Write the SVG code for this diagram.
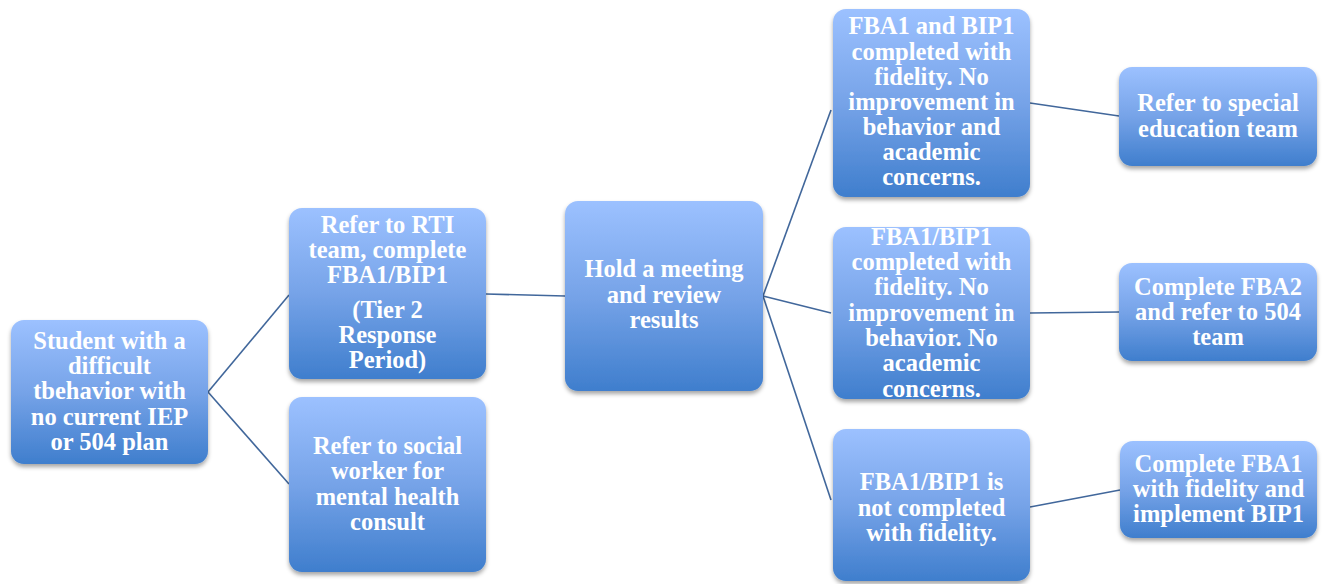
<svg xmlns="http://www.w3.org/2000/svg" width="1324" height="584" viewBox="0 0 1324 584">
<style>
.box{fill:url(#g);filter:url(#sh)}
.t{font-family:"Liberation Serif","Times New Roman",serif;font-weight:bold;font-size:24.5px;fill:#ffffff;text-anchor:middle}
.c{fill:none;stroke:#41679b;stroke-width:1.6}
</style>
<defs>
<linearGradient id="g" x1="0" y1="0" x2="0" y2="1">
<stop offset="0" stop-color="#9cc1ff"/>
<stop offset="0.5" stop-color="#76a3e8"/>
<stop offset="1" stop-color="#3f7ecd"/>
</linearGradient>
<filter id="sh" x="-10%" y="-10%" width="120%" height="125%">
<feDropShadow dx="0" dy="3" stdDeviation="2.2" flood-color="#000" flood-opacity="0.35"/>
</filter>
</defs>
<rect width="1324" height="584" fill="#ffffff"/>
<g id="connectors">
<line class="c" x1="208" y1="392" x2="289" y2="295"/>
<line class="c" x1="208" y1="392" x2="289" y2="484"/>
<line class="c" x1="486" y1="294" x2="565" y2="296"/>
<line class="c" x1="763" y1="296" x2="831" y2="110"/>
<line class="c" x1="763" y1="296" x2="831" y2="313"/>
<line class="c" x1="763" y1="296" x2="831" y2="500"/>
<line class="c" x1="1030" y1="103" x2="1119" y2="116"/>
<line class="c" x1="1030" y1="313" x2="1119" y2="312"/>
<line class="c" x1="1030" y1="507" x2="1120" y2="490"/>
</g>
<g id="n-student">
<rect class="box" x="11" y="320" width="197" height="144" rx="13"/>
<text class="t"><tspan x="109.5" y="349">Student with a</tspan><tspan x="109.5" y="374">difficult</tspan><tspan x="109.5" y="399">tbehavior with</tspan><tspan x="109.5" y="425">no current IEP</tspan><tspan x="109.5" y="450">or 504 plan</tspan></text>
</g>
<g id="n-rti">
<rect class="box" x="289" y="208" width="197" height="171" rx="13"/>
<text class="t"><tspan x="387.5" y="233">Refer to RTI</tspan><tspan x="387.5" y="258">team, complete</tspan><tspan x="387.5" y="283">FBA1/BIP1</tspan><tspan x="387.5" y="318">(Tier 2</tspan><tspan x="387.5" y="343">Response</tspan><tspan x="387.5" y="368">Period)</tspan></text>
</g>
<g id="n-social">
<rect class="box" x="289" y="397" width="197" height="175" rx="13"/>
<text class="t"><tspan x="387.5" y="454">Refer to social</tspan><tspan x="387.5" y="479">worker for</tspan><tspan x="387.5" y="505">mental health</tspan><tspan x="387.5" y="530">consult</tspan></text>
</g>
<g id="n-meeting">
<rect class="box" x="565" y="201" width="198" height="190" rx="13"/>
<text class="t"><tspan x="664" y="277">Hold a meeting</tspan><tspan x="664" y="303">and review</tspan><tspan x="664" y="328">results</tspan></text>
</g>
<g id="n-fba-both">
<rect class="box" x="833" y="9" width="197" height="188" rx="13"/>
<text class="t"><tspan x="931.5" y="34">FBA1 and BIP1</tspan><tspan x="931.5" y="60">completed with</tspan><tspan x="931.5" y="85">fidelity. No</tspan><tspan x="931.5" y="110">improvement in</tspan><tspan x="931.5" y="135">behavior and</tspan><tspan x="931.5" y="160">academic</tspan><tspan x="931.5" y="185">concerns.</tspan></text>
</g>
<g id="n-fba-behavior">
<rect class="box" x="833" y="227" width="197" height="172" rx="13"/>
<text class="t"><tspan x="931.5" y="245">FBA1/BIP1</tspan><tspan x="931.5" y="270">completed with</tspan><tspan x="931.5" y="295">fidelity. No</tspan><tspan x="931.5" y="321">improvement in</tspan><tspan x="931.5" y="346">behavior. No</tspan><tspan x="931.5" y="371">academic</tspan><tspan x="931.5" y="397">concerns.</tspan></text>
</g>
<g id="n-fba-not">
<rect class="box" x="833" y="429" width="197" height="152" rx="13"/>
<text class="t"><tspan x="931.5" y="490">FBA1/BIP1 is</tspan><tspan x="931.5" y="516">not completed</tspan><tspan x="931.5" y="541">with fidelity.</tspan></text>
</g>
<g id="n-special">
<rect class="box" x="1119" y="67" width="198" height="99" rx="13"/>
<text class="t"><tspan x="1218" y="111">Refer to special</tspan><tspan x="1218" y="137">education team</tspan></text>
</g>
<g id="n-fba2">
<rect class="box" x="1119" y="263" width="198" height="98" rx="13"/>
<text class="t"><tspan x="1218" y="295">Complete FBA2</tspan><tspan x="1218" y="320">and refer to 504</tspan><tspan x="1218" y="345">team</tspan></text>
</g>
<g id="n-fba1">
<rect class="box" x="1120" y="441" width="197" height="97" rx="13"/>
<text class="t"><tspan x="1218.5" y="472">Complete FBA1</tspan><tspan x="1218.5" y="497">with fidelity and</tspan><tspan x="1218.5" y="522">implement BIP1</tspan></text>
</g>
</svg>
